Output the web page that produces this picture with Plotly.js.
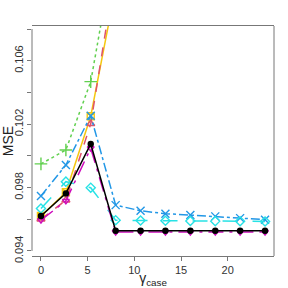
<!DOCTYPE html>
<html><head><meta charset="utf-8">
<script src="https://cdn.plot.ly/plotly-3.0.1.min.js"></script>
<style>html,body{margin:0;padding:0;background:#fff}#chart{width:288px;height:288px}</style>
</head><body><div id="chart"></div>
<script>
var gammaCase = [0, 2.67, 5.33, 8, 10.67, 13.33, 16, 18.67, 21.33, 24];
var mseBlack   = [0.0962, 0.09763, 0.10075, 0.09527, 0.09527, 0.09527, 0.09527, 0.09527, 0.09527, 0.09527];
var mseRed     = [0.0960, 0.0972, 0.10202, 0.1118, 0.1130, 0.1140, 0.1145, 0.1150, 0.1152, 0.1155];
var mseGreen   = [0.09949, 0.10037, 0.10468, 0.1135, 0.1150, 0.1160, 0.1165, 0.1170, 0.1172, 0.1175];
var mseBlue    = [0.09746, 0.09942, 0.10253, 0.09689, 0.09653, 0.09635, 0.09626, 0.09618, 0.09607, 0.09597];
var mseCyan    = [0.09668, 0.09837, 0.09799, 0.09594, 0.09592, 0.0959, 0.09589, 0.09588, 0.09587, 0.09586];
var mseMagenta = [0.09594, 0.09716, 0.10048, 0.09519, 0.09519, 0.09519, 0.09519, 0.09519, 0.09519, 0.09519];
var mseYellow  = [0.0962, 0.0977, 0.1025, 0.1106, 0.1118, 0.1128, 0.1134, 0.1138, 0.1141, 0.1144];
var yTickVals = [0.094, 0.096, 0.098, 0.100, 0.102, 0.104, 0.106, 0.108];
var yTickText = ['0.094', ' ', '0.098', ' ', '0.102', ' ', '0.106', ' '];
var xTickVals = [0, 5, 10, 15, 20];

function tr(y, color, dash, symbol, size) {
  return {x: gammaCase, y: y, type: 'scatter', mode: 'lines+markers',
    line: {color: color, width: 1.5, dash: dash},
    marker: {symbol: symbol, size: size, color: color, line: {color: color, width: 1.4}}};
}
var data = [
  tr(mseYellow, '#F5C710', 'solid', 'square-x-open', 7),
  tr(mseRed, '#DF536B', 'dash', 'triangle-up-open', 7),
  tr(mseGreen, '#61D04F', 'dot', 'cross-thin-open', 9),
  tr(mseBlue, '#2297E6', 'dashdot', 'x-thin-open', 8),
  tr(mseCyan, '#28E2E5', 'longdash', 'diamond-open', 7),
  tr(mseMagenta, '#CD0BBC', 'longdashdot', 'triangle-down-open', 6),
  tr(mseBlack, '#000000', 'solid', 'circle', 5)
];
var axisCol = '#777';
var layout = {
  width: 288, height: 288,
  margin: {l: 32, r: 14, t: 26, b: 32},
  paper_bgcolor: '#fff', plot_bgcolor: '#fff',
  showlegend: false,
  font: {family: 'Liberation Sans, Arial, sans-serif', color: '#333', size: 11},
  xaxis: {range: [-0.96, 24.96], tickvals: xTickVals, ticks: 'outside', ticklen: 4,
    tickcolor: axisCol, showline: true, mirror: true, linecolor: axisCol, linewidth: 1,
    showgrid: false, zeroline: false, tickfont: {size: 11, color: '#333'},
    title: {text: 'γ<sub>case</sub>', font: {size: 14, color: '#222'}, standoff: 5}},
  yaxis: {range: [0.09368, 0.10819], tickvals: yTickVals, ticktext: yTickText,
    ticks: 'outside', ticklen: 4, tickcolor: axisCol, showline: false,
    showgrid: false, zeroline: false, tickangle: -90, tickfont: {size: 11, color: '#333'},
    title: {text: 'MSE', font: {size: 14, color: '#222'}, standoff: 2}},
  shapes: [
    {type: 'line', xref: 'paper', yref: 'y', x0: 0, x1: 0, y0: 0.094, y1: 0.108, line: {color: axisCol, width: 1}},
    {type: 'line', xref: 'paper', yref: 'paper', x0: 1, x1: 1, y0: 0, y1: 1, line: {color: axisCol, width: 1}}
  ]
};
Plotly.newPlot('chart', data, layout, {staticPlot: true, displayModeBar: false});
</script></body></html>
